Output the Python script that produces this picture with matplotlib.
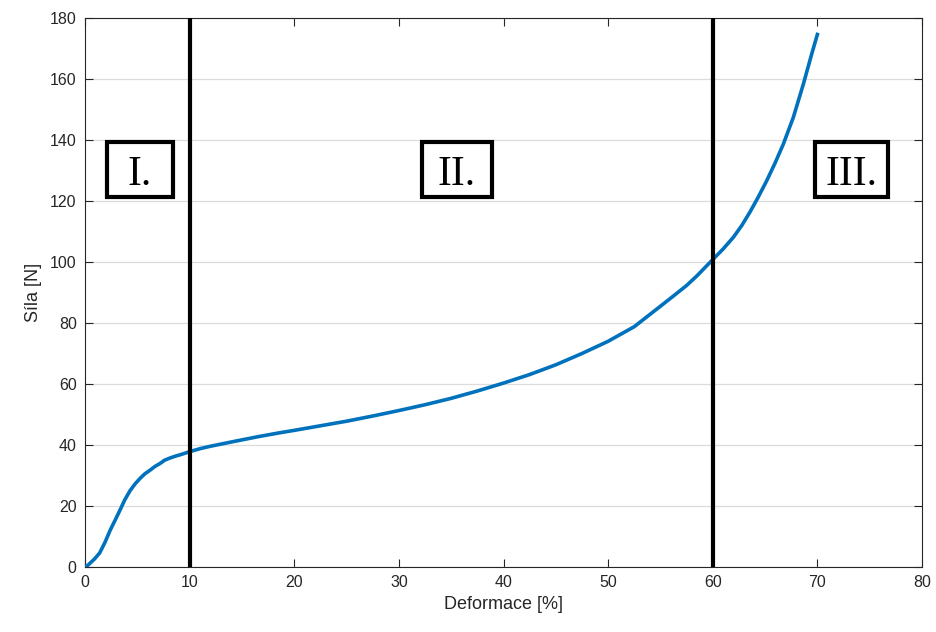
import matplotlib
matplotlib.use("Agg")
import matplotlib.pyplot as plt
from matplotlib.patches import Rectangle

# Force–deformation curve of the compression test
deformation = [0.0, 0.25, 0.5, 0.9, 1.4, 1.9, 2.4, 2.9, 3.35, 3.8, 4.3, 4.8,
               5.25, 5.7, 6.2, 6.7, 7.2, 7.6, 8.1, 8.6, 9.1, 10.0, 11.0,
               12.0, 14.0, 16.5, 18.6, 20.0, 22.5, 25.0, 27.5, 30.0, 32.5,
               35.0, 37.5, 40.0, 42.5, 45.0, 47.5, 50.0, 52.5, 54.7, 56.0,
               57.5, 58.5, 60.0, 61.0, 61.97, 62.8, 63.56, 64.35, 65.15, 65.95,
               66.74, 67.7, 68.65, 69.45, 70.0]
force = [0.0, 0.5, 1.3, 2.6, 4.6, 8.0, 12.0, 15.5, 18.7, 22.0, 25.0, 27.3,
         29.0, 30.5, 31.7, 33.0, 34.0, 35.0, 35.7, 36.3, 36.8, 37.8, 38.8,
         39.6, 41.0, 42.7, 44.0, 44.8, 46.3, 47.8, 49.5, 51.3, 53.2,
         55.3, 57.7, 60.3, 63.1, 66.3, 70.0, 74.0, 78.8, 84.7, 88.2,
         92.3, 95.5, 100.8, 104.3, 108.1, 112.1, 116.4, 121.3, 126.6, 132.4,
         138.6, 147.4, 158.2, 168.1, 174.6]

# Region boundaries and region labels
boundaries = [10, 60]
region_labels = ["I.", "II.", "III."]

x_ticks = list(range(0, 81, 10))
y_ticks = list(range(0, 181, 20))

fig = plt.figure(figsize=(9.36, 6.32), dpi=100)
ax = fig.add_axes([85 / 936, 1 - 567 / 632, (922 - 85) / 936, (567 - 18) / 632])

ax.set_xlim(0, 80)
ax.set_ylim(0, 180)
ax.set_xticks(x_ticks)
ax.set_yticks(y_ticks)

ax.yaxis.grid(True, color="#dcdcdc", linewidth=0.9)
ax.set_axisbelow(True)

ax.plot(deformation, force, color="#0072BD", linewidth=2.6, zorder=3)

for b in boundaries:
    ax.axvline(b, color="black", linewidth=3.0, zorder=4)

# Framed labels: (left, right) edges of each frame in axis units
frames = [(2.1, 8.41), (32.2, 38.9), (69.77, 76.75)]
frame_bottom, frame_top = 121.3, 139.3
label_baseline = 125.2
for lbl, (x0, x1) in zip(region_labels, frames):
    ax.add_patch(Rectangle((x0, frame_bottom), x1 - x0, frame_top - frame_bottom,
                           facecolor="white", edgecolor="black", linewidth=3.0,
                           zorder=5))
    ax.text((x0 + x1) / 2, label_baseline, lbl, family="Liberation Serif",
            fontsize=30, ha="center", va="baseline", color="black", zorder=6)

tick_color = "#262626"
for side in ["left", "right", "top", "bottom"]:
    ax.spines[side].set_color("#262626")
    ax.spines[side].set_linewidth(0.8)

ax.tick_params(direction="in", top=True, right=True, length=6, width=0.8,
               colors=tick_color, labelsize=11.5, pad=6)
for lbl in ax.get_xticklabels() + ax.get_yticklabels():
    lbl.set_family("Liberation Sans")
    lbl.set_color(tick_color)

ax.set_xlabel("Deformace [%]", fontsize=13, color=tick_color,
              family="Liberation Sans", labelpad=4)
ax.set_ylabel("Síla [N]", fontsize=13, color=tick_color,
              family="Liberation Sans", labelpad=6)

fig.savefig("out.png", dpi=100, facecolor="white")
